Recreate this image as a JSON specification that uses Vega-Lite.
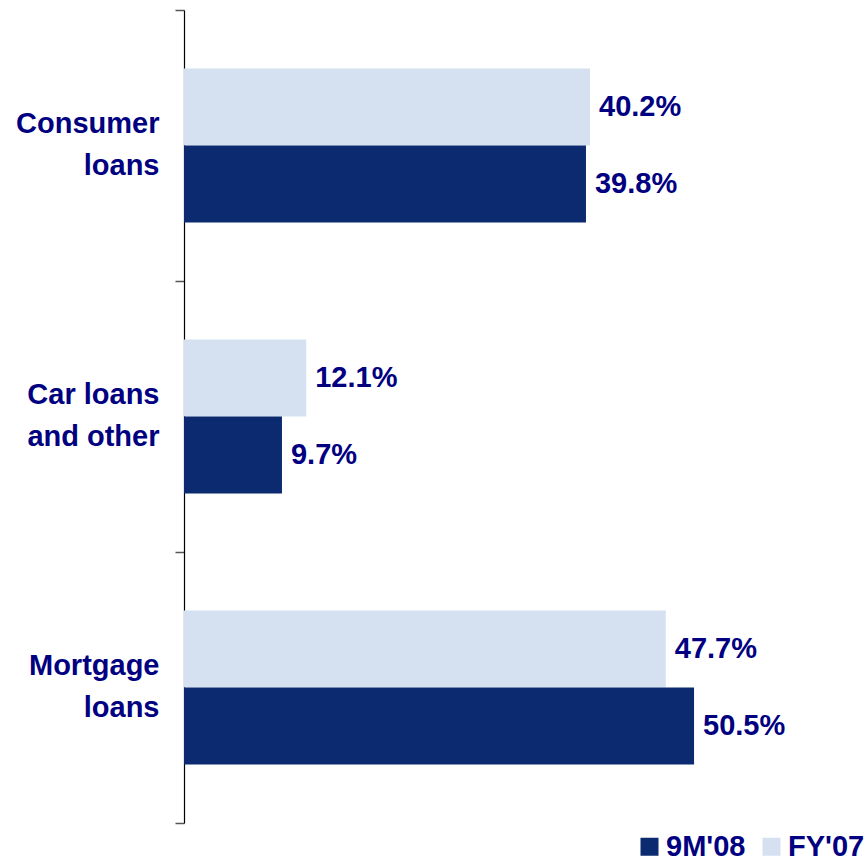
{
  "$schema": "https://vega.github.io/schema/vega-lite/v6.json",
  "autosize": "none",
  "padding": {"left": 184, "top": 10, "right": 75, "bottom": 34},
  "width": 606,
  "height": 813,
  "background": "white",
  "config": {"view": {"stroke": null}},
  "data": {
    "values": [
      {"category": "Consumer loans", "series": "FY'07", "value": 0.402},
      {"category": "Consumer loans", "series": "9M'08", "value": 0.398},
      {"category": "Car loans and other", "series": "FY'07", "value": 0.121},
      {"category": "Car loans and other", "series": "9M'08", "value": 0.097},
      {"category": "Mortgage loans", "series": "FY'07", "value": 0.477},
      {"category": "Mortgage loans", "series": "9M'08", "value": 0.505}
    ]
  },
  "encoding": {
    "y": {
      "field": "category",
      "type": "nominal",
      "sort": ["Consumer loans", "Car loans and other", "Mortgage loans"],
      "scale": {"paddingInner": 0, "paddingOuter": 0},
      "axis": {
        "title": null,
        "tickBand": "extent",
        "labelExpr": "datum.value == null ? '' : datum.value == 'Car loans and other' ? ['Car loans', 'and other'] : split(datum.value, ' ')",
        "labelFont": "Liberation Sans",
        "labelFontSize": 29,
        "labelFontWeight": "bold",
        "labelColor": "#000080",
        "labelLineHeight": 42,
        "labelPadding": 16,
        "labelAlign": "right",
        "labelOffset": -22,
        "tickSize": 9,
        "tickColor": "#555555",
        "tickWidth": 1.5,
        "domainColor": "#000000",
        "domainWidth": 1.2
      }
    },
    "yOffset": {
      "field": "series",
      "sort": ["FY'07", "9M'08"],
      "scale": {"paddingInner": 0, "paddingOuter": 0.76}
    },
    "x": {
      "field": "value",
      "type": "quantitative",
      "scale": {"domain": [0, 0.6]},
      "axis": null
    }
  },
  "layer": [
    {
      "mark": {"type": "bar"},
      "encoding": {
        "color": {
          "field": "series",
          "type": "nominal",
          "scale": {"domain": ["9M'08", "FY'07"], "range": ["#0B2A6F", "#D5E1F0"]},
          "legend": {
            "title": null,
            "orient": "none",
            "legendX": 451,
            "legendY": 822,
            "direction": "horizontal",
            "symbolType": "square",
            "symbolSize": 324,
            "symbolStrokeWidth": 0,
            "labelFont": "Liberation Sans",
            "labelFontSize": 29,
            "labelFontWeight": "bold",
            "labelColor": "#000080",
            "labelOffset": 2,
            "columnPadding": 11
          }
        }
      }
    },
    {
      "mark": {
        "type": "text",
        "align": "left",
        "baseline": "middle",
        "dx": 9,
        "font": "Liberation Sans",
        "fontSize": 29,
        "fontWeight": "bold",
        "color": "#000080"
      },
      "encoding": {
        "text": {"field": "value", "type": "quantitative", "format": ".1%"}
      }
    }
  ]
}
